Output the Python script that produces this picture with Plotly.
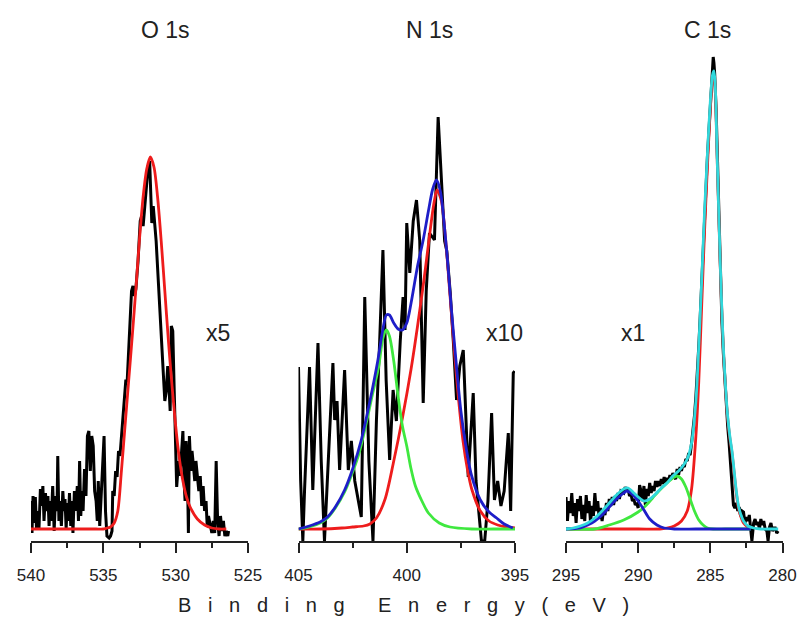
import plotly.graph_objects as go

# ---------------- O 1s ----------------
o1s_be = [540.0, 539.93, 539.86, 539.79, 539.7, 539.62, 539.55, 539.45, 539.35, 539.27, 539.18, 539.1, 539.0,
          538.92, 538.83, 538.75, 538.68, 538.6, 538.5, 538.4, 538.3, 538.2, 538.15, 538.07, 538.0, 537.9,
          537.8, 537.72, 537.65, 537.57, 537.5, 537.42, 537.34, 537.25, 537.17, 537.1, 537.0, 536.9, 536.8,
          536.72, 536.64, 536.56, 536.48, 536.4, 536.3, 536.2, 536.1, 536.0, 535.9, 535.8, 535.7, 535.6,
          535.5, 535.42, 535.35, 535.25, 535.1, 534.95, 534.85, 534.75, 534.6, 534.5, 534.4, 534.35, 534.25,
          534.15, 534.05, 533.95, 533.85, 533.7, 533.6, 533.45, 533.35, 533.2, 533.05, 532.95, 532.85,
          532.75, 532.6, 532.45, 532.35, 532.25, 532.1, 532.0, 531.9, 531.8, 531.72, 531.65, 531.55, 531.45,
          531.35, 531.2, 531.05, 530.95, 530.85, 530.75, 530.65, 530.55, 530.45, 530.38, 530.3, 530.2,
          530.1, 530.0, 529.93, 529.85, 529.78, 529.7, 529.6, 529.5, 529.42, 529.35, 529.28, 529.2, 529.12,
          529.05, 528.95, 528.87, 528.77, 528.68, 528.6, 528.5, 528.4, 528.3, 528.2, 528.1, 528.0, 527.9,
          527.82, 527.73, 527.6, 527.5, 527.4, 527.3, 527.2, 527.1, 527.0, 526.9, 526.8, 526.7, 526.6,
          526.5, 526.4, 526.34]
o1s_counts = [40, 8, 45, 18, 44, 12, 30, 12, 52, 35, 55, 20, 48,
              30, 45, 15, 40, 20, 55, 10, 45, 30, 85, 20, 40, 15,
              50, 30, 42, 12, 38, 20, 48, 15, 40, 8, 50, 30, 55,
              20, 80, 25, 50, 30, 72, 45, 105, 110, 70, 105, 95, 50,
              40, 20, 60, 15, 60, 105, 30, 5, 3, 5, 10, 50, 45,
              70, 64, 90, 85, 115, 125, 160, 160, 210, 250, 255, 245,
              252, 280, 320, 325, 315, 345, 360, 375, 380, 345, 318, 335, 320,
              300, 260, 220, 190, 170, 140, 150, 175, 150, 130, 215, 210,
              150, 90, 54, 70, 80, 65, 95, 110, 60, 40, 100, 80, 8,
              105, 70, 90, 75, 60, 80, 60, 50, 65, 35, 55, 30, 40,
              15, 25, 15, 8, 20, 8, 80, 20, 5, 25, 10, 20, 5,
              10, 5, 10]
o1s_fit_be = [540, 539, 538, 537, 536, 535.5, 535, 534.75, 534.5, 534.25, 534.0, 533.75, 533.5, 533.25,
              533.0, 532.75, 532.5, 532.25, 532.0, 531.75, 531.5, 531.25, 531.0, 530.75, 530.5, 530.25,
              530.0, 529.75, 529.5, 529.25, 529.0, 528.5, 528.0, 527.5, 527.0, 526.5]
o1s_fit = [12, 12, 12, 12, 12, 12, 12, 13, 14, 18, 30, 70, 115, 160,
           205, 252, 302, 344, 372, 384, 374, 344, 300, 250, 200, 155,
           115, 83, 60, 44, 34, 22, 16, 13, 12, 12]

# ---------------- N 1s ----------------
n1s_be = [405.0, 404.9, 404.8, 404.72, 404.49, 404.34, 404.1, 403.95, 403.8, 403.62, 403.41, 403.33, 403.22,
          403.1, 402.87, 402.7, 402.56, 402.4, 402.25, 402.1, 401.94, 401.75, 401.56, 401.4, 401.25, 401.1,
          400.95, 400.79, 400.63, 400.48, 400.3, 400.17, 400.08, 400.0, 399.86, 399.7, 399.55, 399.4,
          399.24, 399.1, 398.95, 398.72, 398.55, 398.4, 398.25, 398.15, 397.99, 397.85, 397.7, 397.55,
          397.39, 397.16, 397.05, 396.93, 396.8, 396.65, 396.55, 396.4, 396.25, 396.08, 395.95, 395.8,
          395.65, 395.5, 395.31, 395.2, 395.08, 395.02]
n1s_counts = [174, 60, 0, 51, 174, 51, 198, 80, 0, 90, 178, 121, 140,
              71, 171, 71, 100, 60, 40, 24, 244, 80, 0, 121, 200, 291,
              160, 81, 151, 120, 200, 244, 211, 318, 268, 320, 341, 300,
              138, 250, 308, 301, 424, 358, 300, 290, 248, 200, 141, 175,
              191, 64, 100, 148, 60, 24, 0, 0, 40, 128, 41, 60,
              35, 50, 108, 30, 168, 170]
n1s_red_be = [405, 404, 403, 402.5, 402, 401.7, 401.4, 401.0, 400.6, 400.2, 399.8, 399.5, 399.2, 398.95,
              398.75, 398.6, 398.4, 398.2, 398.0, 397.8, 397.6, 397.4, 397.2, 397.0, 396.6, 396.2, 395.8,
              395.4, 395.0]
n1s_red = [12, 12, 13, 14, 15, 17, 23, 42, 80, 123, 172, 215, 262, 305,
           337, 351, 340, 300, 245, 190, 140, 100, 72, 52, 30, 20, 16,
           14, 13]
n1s_green_be = [405, 404.5, 404, 403.66, 403.3, 402.87, 402.5, 402.2, 401.9, 401.6, 401.3, 401.1, 400.94,
                400.8, 400.6, 400.4, 400.2, 400.0, 399.8, 399.6, 399.3, 399.0, 398.5, 398.0, 397.0, 396.0,
                395.0]
n1s_green = [12, 14, 18, 23, 33, 49, 69, 88, 115, 145, 174, 203, 211,
             205, 180, 145, 115, 95, 72, 55, 40, 28, 18, 14, 12, 12,
             12]
n1s_sum_be = [405, 404.5, 404, 403.66, 403.3, 402.87, 402.5, 402.1, 401.7, 401.34, 401.1, 400.94, 400.8,
              400.6, 400.4, 400.2, 400.0, 399.8, 399.5, 399.24, 399.0, 398.8, 398.63, 398.45, 398.16,
              397.95, 397.7, 397.5, 397.24, 397.0, 396.6, 396.2, 395.85, 395.5, 395.1]
n1s_sum = [12, 15, 19, 24, 34, 51, 72, 101, 140, 180, 212, 226, 226,
           218, 212, 211, 218, 238, 275, 301, 330, 352, 361, 350, 291,
           235, 174, 130, 91, 65, 41, 29, 23, 17, 13]

# ---------------- C 1s ----------------
c1s_be = [295.0, 294.9, 294.8, 294.7, 294.6, 294.5, 294.4, 294.3, 294.2, 294.1, 294.0, 293.9, 293.8, 293.7,
          293.6, 293.5, 293.4, 293.3, 293.2, 293.1, 293.0, 292.9, 292.8, 292.7, 292.6, 292.5, 292.4, 292.3,
          292.2, 292.1, 292.0, 291.9, 291.8, 291.7, 291.6, 291.5, 291.4, 291.3, 291.2, 291.0, 290.9, 290.8,
          290.7, 290.6, 290.5, 290.4, 290.3, 290.2, 290.1, 290.0, 289.9, 289.8, 289.7, 289.6, 289.5, 289.4,
          289.3, 289.2, 289.1, 289.0, 288.9, 288.8, 288.7, 288.6, 288.5, 288.4, 288.3, 288.2, 288.1, 288.0,
          287.9, 287.8, 287.7, 287.6, 287.5, 287.4, 287.3, 287.2, 287.1, 287.0, 286.9, 286.8, 286.7, 286.6,
          286.5, 286.4, 286.3, 286.2, 286.1, 286.0, 285.9, 285.8, 285.7, 285.6, 285.5, 285.4, 285.3, 285.2,
          285.1, 285.0, 284.9, 284.8, 284.75, 284.7, 284.6, 284.5, 284.4, 284.3, 284.2, 284.1, 284.0, 283.9,
          283.8, 283.7, 283.6, 283.5, 283.4, 283.3, 283.2, 283.1, 283.0, 282.9, 282.8, 282.7, 282.6, 282.5,
          282.4, 282.3, 282.2, 282.12, 282.0, 281.9, 281.8, 281.7, 281.6, 281.5, 281.4, 281.3, 281.2, 281.08,
          281.0, 280.9, 280.8, 280.7, 280.6, 280.5, 280.4, 280.3]
c1s_counts = [44, 20, 40, 28, 48, 25, 38, 18, 42, 30, 45, 22, 36, 20,
              46, 28, 40, 18, 35, 25, 48, 30, 40, 22, 33, 20, 30, 26,
              38, 30, 42, 35, 44, 36, 45, 40, 48, 42, 50, 48, 54, 50,
              52, 45, 47, 40, 42, 36, 38, 33, 56, 50, 40, 55, 36, 52,
              45, 58, 48, 55, 50, 60, 54, 60, 55, 62, 57, 64, 58, 63,
              60, 66, 62, 68, 64, 62, 72, 66, 74, 70, 76, 74, 82, 80,
              88, 86, 98, 110, 125, 145, 165, 195, 225, 260, 295, 328, 358, 385,
              410, 438, 460, 484, 478, 468, 432, 372, 318, 262, 220, 188, 160, 135,
              115, 98, 80, 60, 36, 33, 38, 30, 34, 25, 30, 29, 18, 24,
              20, 26, 14, 0, 18, 22, 16, 19, 12, 22, 16, 20, 12, 10,
              0, 14, 18, 10, 13, 13, 8, 10]
c1s_red_be = [295, 290, 288.5, 288, 287.5, 287.0, 286.6, 286.3, 286.0, 285.8, 285.6, 285.4, 285.2, 285.0,
              284.85, 284.75, 284.65, 284.55, 284.4, 284.25, 284.1, 283.95, 283.8, 283.65, 283.5, 283.35,
              283.2, 283.05, 282.9, 282.7, 282.4, 282.2]
c1s_red = [12, 12, 12, 13, 15, 20, 30, 52, 105, 160, 235, 310, 375, 432,
           462, 466, 448, 394, 318, 248, 193, 153, 123, 103, 88, 68,
           48, 33, 25, 18, 14, 13]
c1s_green_be = [295, 293, 292, 291, 290, 289.5, 289, 288.5, 288, 287.6, 287.3, 287.0, 286.7, 286.4, 286.1,
                285.8, 285.5, 285.2, 284.8, 284.0, 283.0, 282.2]
c1s_green = [12, 12, 16, 21, 29, 35, 43, 51, 58, 63, 65, 62, 54, 42, 30,
             21, 16, 13, 12, 12, 12, 12]
c1s_blue_be = [295, 294, 293.5, 293, 292.5, 292, 291.5, 291, 290.8, 290.5, 290, 289.6, 289.2, 288.7, 288.2,
               287.5, 286.0, 284.0, 282.2]
c1s_blue = [12, 13, 16, 20, 26, 34, 42, 48, 50, 48, 40, 31, 22, 16, 13,
            12, 12, 12, 12]
c1s_sum_be = [295, 294.5, 294, 293.5, 293, 292.5, 292, 291.5, 291, 290.7, 290.3, 290, 289.6, 289.2, 288.8,
              288.4, 288, 287.6, 287.2, 286.9, 286.6, 286.3, 286.0, 285.8, 285.6, 285.4, 285.2, 285.0,
              284.85, 284.75, 284.65, 284.55, 284.4, 284.25, 284.1, 283.95, 283.8, 283.65, 283.5, 283.35,
              283.2, 283.05, 282.9, 282.7, 282.4, 282.0, 281.5, 281.0, 280.5, 280.3]
c1s_sum = [12, 13, 15, 18, 23, 30, 38, 46, 52, 53, 48, 44, 40, 42, 47,
           53, 58, 65, 70, 75, 82, 98, 140, 195, 260, 330, 388, 440,
           466, 470, 452, 396, 320, 250, 195, 155, 125, 105, 90, 70,
           50, 35, 27, 20, 15, 13, 12, 12, 12, 12]

panel_titles = ["O 1s", "N 1s", "C 1s"]
panel_factors = ["x5", "x10", "x1"]
x_ranges = [[540, 525], [405, 395], [295, 280]]
major_ticks = [[540, 535, 530, 525], [405, 400, 395], [295, 290, 285, 280]]
minor_ticks = [[537.5, 532.5, 527.5], [402.5, 397.5], [292.5, 287.5, 282.5]]
axis_title = "Binding Energy(eV)"

RED = "#ee1c1c"
GREEN = "#3fe83f"
BLUE = "#1e1ec8"
CYAN = "#30d8dc"
BLACK = "#000000"

fig = go.Figure()

def add_line(x, y, xa, color, width=2.8, spline=False):
    fig.add_trace(go.Scatter(
        x=x, y=y, xaxis=xa, yaxis="y", mode="lines",
        line=dict(color=color, width=width, shape="spline" if spline else "linear", smoothing=0.8),
        showlegend=False, hoverinfo="skip"))

add_line(o1s_be, o1s_counts, "x", BLACK, width=3)
add_line(o1s_fit_be, o1s_fit, "x", RED, spline=True)

add_line(n1s_be, n1s_counts, "x2", BLACK, width=3)
add_line(n1s_red_be, n1s_red, "x2", RED, spline=True)
add_line(n1s_green_be, n1s_green, "x2", GREEN, spline=True)
add_line(n1s_sum_be, n1s_sum, "x2", BLUE, spline=True)

add_line(c1s_be, c1s_counts, "x3", BLACK, width=3)
add_line(c1s_red_be, c1s_red, "x3", RED, spline=True)
add_line(c1s_green_be, c1s_green, "x3", GREEN, spline=True)
add_line(c1s_blue_be, c1s_blue, "x3", BLUE, spline=True)
add_line(c1s_sum_be, c1s_sum, "x3", CYAN, spline=True)

W, H = 803, 619
domains = [[31 / W, 248 / W], [298.5 / W, 515 / W], [566 / W, 782.5 / W]]
tick_font = dict(family="Liberation Sans, Arial, sans-serif", size=17, color="#222222")

layout = dict(
    width=W, height=H, autosize=False,
    margin=dict(l=0, r=0, t=0, b=0, pad=0, autoexpand=False),
    paper_bgcolor="white", plot_bgcolor="white",
    yaxis=dict(domain=[(H - 541) / H, (H - 40) / H], range=[0, 501], visible=False,
               fixedrange=True, automargin=False),
)
names = ["xaxis", "xaxis2", "xaxis3"]
for i, nm in enumerate(names):
    layout[nm] = dict(
        domain=domains[i], range=x_ranges[i], anchor="y", automargin=False,
        showgrid=False, zeroline=False,
        showline=True, linecolor="#222222", linewidth=1.6,
        ticks="outside", ticklen=10, tickwidth=1.6, tickcolor="#222222",
        tickmode="array", tickvals=major_ticks[i], ticktext=[str(v) for v in major_ticks[i]],
        tickfont=tick_font, ticklabelstandoff=8,
        minor=dict(tickmode="array", tickvals=minor_ticks[i], ticks="outside", ticklen=5,
                   tickwidth=1.6, tickcolor="#222222", showgrid=False),
    )
fig.update_layout(**layout)

title_x = [165, 429, 707]
factor_x = [218, 505, 633]
ann_font = dict(family="Liberation Sans, Arial, sans-serif", size=23, color="#222222")
for i in range(3):
    fig.add_annotation(x=title_x[i] / W, y=(H - 30) / H, xref="paper", yref="paper",
                       text=panel_titles[i], showarrow=False, font=ann_font,
                       xanchor="center", yanchor="middle")
    fig.add_annotation(x=factor_x[i] / W, y=(H - 333) / H, xref="paper", yref="paper",
                       text=panel_factors[i], showarrow=False, font=ann_font,
                       xanchor="center", yanchor="middle")

sp = "\u00a0\u00a0\u00a0"
w1, w2 = axis_title.split(" ")
spaced = sp.join(list(w1)) + sp * 2 + sp.join(list(w2))
fig.add_annotation(x=403 / W, y=(H - 605) / H, xref="paper", yref="paper",
                   text=spaced, showarrow=False,
                   font=dict(family="Liberation Sans, Arial, sans-serif", size=20, color="#222222"),
                   xanchor="center", yanchor="middle")

fig.write_html("out.html", config={"responsive": False})
